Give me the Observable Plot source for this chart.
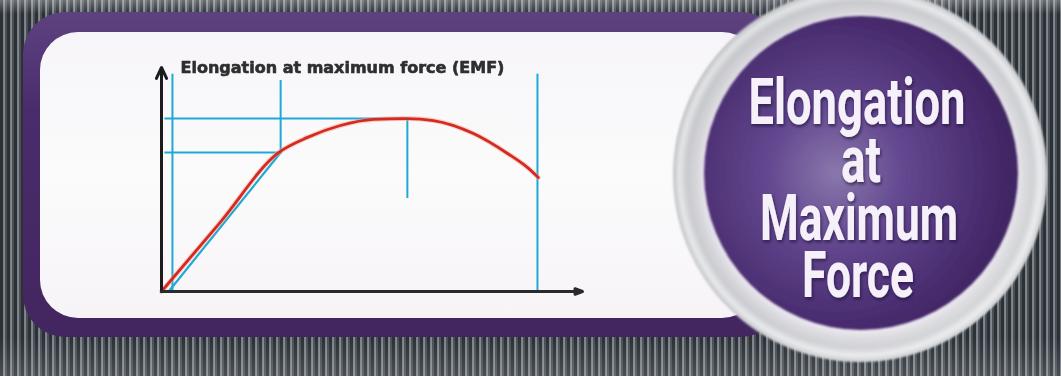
<!DOCTYPE html>
<html>
<head>
<meta charset="utf-8">
<script src="https://cdn.jsdelivr.net/npm/d3@7"></script>
<script src="https://cdn.jsdelivr.net/npm/@observablehq/plot@0.6"></script>
<style>
  html, body { margin: 0; padding: 0; background: #3a3f45; }
  #stage {
    position: relative; width: 1061px; height: 376px; overflow: hidden;
    background:
      linear-gradient(180deg, rgba(255,255,255,0.30) 0px, rgba(255,255,255,0) 14px, rgba(255,255,255,0) 338px, rgba(255,255,255,0.14) 376px),
      repeating-linear-gradient(90deg, #2c3136 0px, #2c3136 3px, #747b82 3px, #868d94 5px, #4a5056 5px, #4a5056 7px);
  }
  #panel {
    position: absolute; left: 23px; top: 12px; width: 760px; height: 325px;
    border-radius: 42px;
    background: linear-gradient(180deg, #5e4280 0%, #4a2c6c 30%, #43255f 100%);
  }
  #inner {
    position: absolute; left: 40px; top: 32px; width: 720px; height: 286px;
    border-radius: 38px;
    background: linear-gradient(180deg, #f7f5f9 0%, #fbfbfb 50%, #f7f4f8 100%);
  }
  #chart { position: absolute; left: 140px; top: 50px; filter: blur(0.45px); }
  #badge { position: absolute; left: 0; top: 0; }
</style>
</head>
<body>
<div id="stage">
  <div id="panel"></div>
  <div id="inner"></div>
  <div id="chart"></div>
  <svg id="badge" width="1061" height="376" xmlns="http://www.w3.org/2000/svg">
    <defs>
      <radialGradient id="ring" cx="0.5" cy="0.5" r="0.5">
        <stop offset="0.83" stop-color="#ebe7f0"/>
        <stop offset="0.875" stop-color="#d8d8dc"/>
        <stop offset="0.925" stop-color="#cbccd0"/>
        <stop offset="0.965" stop-color="#e8e9eb"/>
        <stop offset="1" stop-color="#c4c6c9"/>
      </radialGradient>
      <linearGradient id="ringLight" x1="0" y1="0" x2="1" y2="1">
        <stop offset="0" stop-color="#000" stop-opacity="0.06"/>
        <stop offset="0.5" stop-color="#fff" stop-opacity="0"/>
        <stop offset="1" stop-color="#fff" stop-opacity="0.25"/>
      </linearGradient>
      <radialGradient id="disc" cx="0.42" cy="0.5" r="0.62">
        <stop offset="0" stop-color="#8a78ab"/>
        <stop offset="0.35" stop-color="#634890"/>
        <stop offset="0.75" stop-color="#4a2d70"/>
        <stop offset="1" stop-color="#3a215c"/>
      </radialGradient>
      <filter id="shadow" x="-30%" y="-30%" width="160%" height="160%">
        <feDropShadow dx="1" dy="2" stdDeviation="1.5" flood-color="#1e0d33" flood-opacity="0.7"/>
      </filter>
      <filter id="soft" x="-10%" y="-10%" width="120%" height="120%"><feGaussianBlur stdDeviation="0.8"/></filter>
    </defs>
    <circle cx="860" cy="175" r="187" fill="url(#ring)" filter="url(#soft)"/>
    <circle cx="860" cy="175" r="187" fill="url(#ringLight)"/>
    <circle cx="861" cy="173" r="157" fill="url(#disc)" filter="url(#soft)"/>
    <text fill="#f6f0fa" font-family="'Liberation Sans Narrow', 'Roboto', 'Liberation Sans', sans-serif" font-weight="700" font-size="64" text-anchor="middle" filter="url(#shadow)"><tspan x="857" y="124" textLength="217" lengthAdjust="spacingAndGlyphs">Elongation</tspan><tspan x="861" y="182" textLength="40" lengthAdjust="spacingAndGlyphs">at</tspan><tspan x="859" y="240" textLength="198" lengthAdjust="spacingAndGlyphs">Maximum</tspan><tspan x="858" y="297" textLength="112" lengthAdjust="spacingAndGlyphs">Force</tspan></text>
  </svg>
</div>
<script>
// Chart title
const chartTitle = "Elongation at maximum force (EMF)";

// Force–elongation curve (red)
const elongation = [0, 14, 27.8, 34.7, 42.5, 50.4, 58.4, 64.6, 74.1, 82.2, 86.9, 89.5];
const force      = [0, 31, 62, 68.8, 74.1, 76.8, 77.2, 76.3, 70.5, 61.6, 55.4, 50.9];

// Elastic (linear) reference line (cyan)
const elasticX = [1.7, 28.5];
const elasticY = [0, 62.5];

// Vertical cyan guides
const vGuideX  = [2.6, 28.3, 58.4, 89.3];
const vGuideY1 = [0, 62, 41.5, 0];
const vGuideY2 = [97, 94.2, 77.2, 97];

// Horizontal cyan guides
const hGuideY  = [77.2, 62];
const hGuideX1 = [0.8, 0.8];
const hGuideX2 = [58.4, 28.3];

const curve = elongation.map((e, i) => ({e, f: force[i]}));
const elastic = elasticX.map((e, i) => ({e, f: elasticY[i]}));
const vGuides = vGuideX.map((x, i) => ({x, y1: vGuideY1[i], y2: vGuideY2[i]}));
const hGuides = hGuideY.map((y, i) => ({y, x1: hGuideX1[i], x2: hGuideX2[i]}));

const cyan = "#1fa9d6";

const plot = Plot.plot({
  width: 460,
  height: 255,
  marginLeft: 21,
  marginRight: 18,
  marginTop: 17,
  marginBottom: 14,
  x: {domain: [0, 100], axis: null},
  y: {domain: [0, 100], axis: null},
  style: {background: "transparent", overflow: "visible"},
  marks: [
    Plot.ruleX(vGuides, {x: "x", y1: "y1", y2: "y2", stroke: cyan, strokeWidth: 2}),
    Plot.ruleY(hGuides, {y: "y", x1: "x1", x2: "x2", stroke: cyan, strokeWidth: 2}),
    Plot.line(elastic, {x: "e", y: "f", stroke: cyan, strokeWidth: 2.2}),
    Plot.line(curve, {x: "e", y: "f", stroke: "#f3a08a", strokeWidth: 5, strokeOpacity: 0.45, curve: "monotone-x"}),
    Plot.line(curve, {x: "e", y: "f", stroke: "#d42a22", strokeWidth: 2.8, curve: "monotone-x"}),
    Plot.arrow([{x1: 0, y1: 0, x2: 0, y2: 100}], {x1: "x1", y1: "y1", x2: "x2", y2: "y2", stroke: "#1c1c1c", strokeWidth: 3, headLength: 6, headAngle: 50}),
    Plot.arrow([{x1: 0, y1: 0, x2: 100, y2: 0}], {x1: "x1", y1: "y1", x2: "x2", y2: "y2", stroke: "#2a2a2a", strokeWidth: 3, headLength: 4, headAngle: 40}),
    Plot.text([chartTitle], {frameAnchor: "top-left", dx: 19, dy: 5, textAnchor: "start", lineAnchor: "bottom",
      fontFamily: "'DejaVu Sans', sans-serif", fontWeight: "bold", fontSize: 16, fill: "#2e2e2e",
      stroke: "#2e2e2e", strokeWidth: 0.6})
  ]
});
document.getElementById("chart").appendChild(plot);
</script>
</body>
</html>
